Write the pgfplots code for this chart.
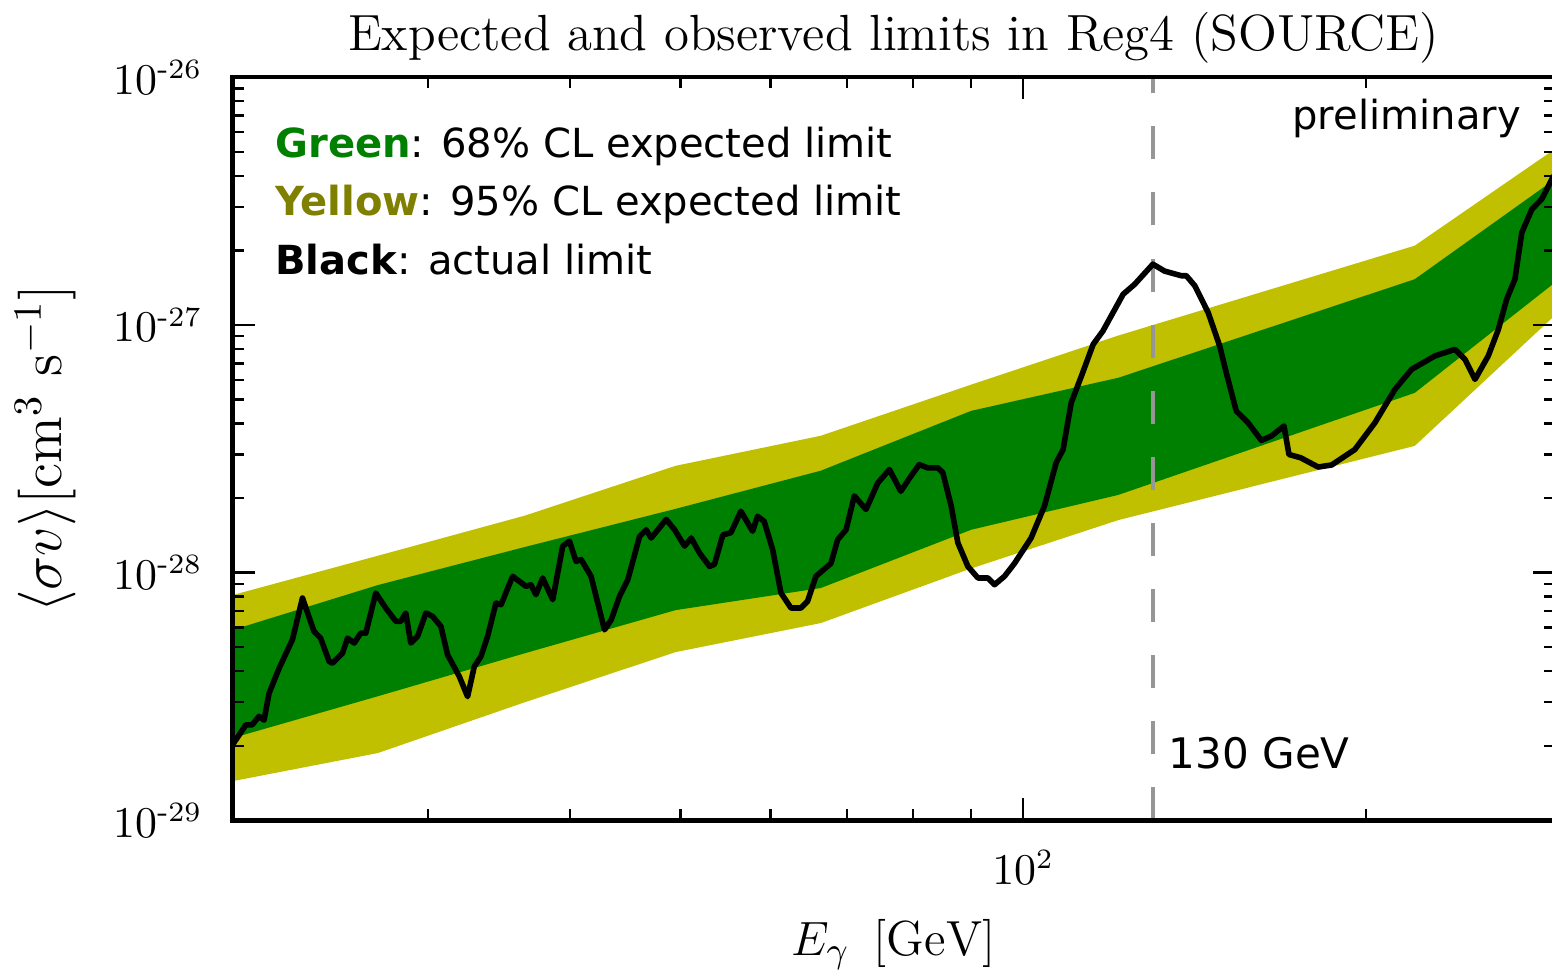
\documentclass[border=0pt]{standalone}
\usepackage{pgfplots}
\pgfplotsset{compat=1.18}
\usepackage{pgfplotstable}
\usepgfplotslibrary{fillbetween}
\usepackage{amsmath}
\usepackage{fontspec}
\newfontfamily\dejavu{DejaVu Sans}
\definecolor{bandgreen}{RGB}{0,128,0}
\definecolor{bandyellow}{RGB}{192,192,0}
\definecolor{olivetext}{RGB}{128,128,0}
\definecolor{dashgray}{RGB}{150,150,150}

\pgfplotstableread{
x yl95 yl68 yu68 yu95
20.2  1.44e-29 2.15e-29 5.87e-29 8.12e-29
27.1  1.87e-29 3.17e-29 8.91e-29 1.17e-28
36.5  3.00e-29 4.73e-29 1.27e-28 1.70e-28
49.5  4.78e-29 7.06e-29 1.81e-28 2.70e-28
66.4  6.26e-29 8.67e-29 2.58e-28 3.57e-28
90.0  1.04e-28 1.49e-28 4.50e-28 5.74e-28
121.2 1.63e-28 2.06e-28 6.12e-28 9.06e-28
220.8 3.25e-28 5.32e-28 1.53e-27 2.09e-27
293.0 1.09e-27 1.48e-27 3.87e-27 5.12e-27
}\bands

\pgfplotstableread{
x y
20.2 2.02e-29
20.75 2.43e-29
21.02 2.43e-29
21.31 2.63e-29
21.53 2.54e-29
21.75 3.26e-29
22.20 4.12e-29
22.80 5.36e-29
23.27 7.90e-29
23.82 5.79e-29
24.14 5.44e-29
24.56 4.38e-29
24.72 4.31e-29
25.23 4.73e-29
25.49 5.44e-29
25.84 5.20e-29
26.18 5.70e-29
26.45 5.70e-29
26.99 8.28e-29
27.54 7.20e-29
28.11 6.36e-29
28.39 6.36e-29
28.68 6.87e-29
28.97 5.20e-29
29.37 5.53e-29
29.87 6.87e-29
30.28 6.66e-29
30.79 6.07e-29
31.21 4.66e-29
31.96 3.81e-29
32.50 3.16e-29
32.94 4.18e-29
33.39 4.59e-29
33.84 5.53e-29
34.42 7.54e-29
34.77 7.42e-29
35.60 9.67e-29
36.57 8.81e-29
36.94 8.94e-29
37.32 8.15e-29
37.83 9.52e-29
38.61 7.78e-29
39.40 1.28e-28
39.94 1.34e-28
40.48 1.11e-28
40.89 1.13e-28
41.72 9.67e-29
42.29 7.54e-29
42.87 5.88e-29
43.45 6.45e-29
44.19 8.02e-29
44.94 9.37e-29
46.02 1.40e-28
46.64 1.49e-28
47.11 1.38e-28
48.57 1.64e-28
49.40 1.49e-28
50.41 1.28e-28
51.09 1.38e-28
51.96 1.20e-28
53.02 1.06e-28
53.55 1.08e-28
54.46 1.42e-28
55.36 1.45e-28
56.49 1.77e-28
57.84 1.47e-28
58.43 1.69e-28
59.22 1.61e-28
60.24 1.24e-28
61.26 8.28e-29
62.52 7.20e-29
63.78 7.20e-29
64.65 7.66e-29
65.75 9.67e-29
67.78 1.09e-28
68.71 1.36e-28
69.88 1.49e-28
71.06 2.04e-28
72.77 1.80e-28
74.52 2.30e-28
76.29 2.61e-28
78.08 2.13e-28
79.68 2.45e-28
81.03 2.73e-28
82.43 2.65e-28
84.14 2.65e-28
85.00 2.53e-28
86.44 1.86e-28
87.62 1.32e-28
89.41 1.06e-28
91.25 9.52e-29
93.11 9.52e-29
94.36 8.94e-29
96.29 9.67e-29
98.25 1.09e-28
101.6 1.38e-28
104.4 1.86e-28
106.9 2.78e-28
108.4 3.14e-28
110.2 4.85e-28
112.5 6.22e-28
115.2 8.35e-28
117.5 9.46e-28
122.4 1.33e-27
125.3 1.46e-27
130.0 1.76e-27
133.1 1.65e-27
137.7 1.58e-27
139.1 1.58e-27
141.5 1.44e-27
145.4 1.12e-27
148.8 8.23e-28
150.8 6.42e-28
153.9 4.49e-28
157.6 4.03e-28
161.9 3.42e-28
165.2 3.56e-28
169.5 3.91e-28
171.2 3.00e-28
175.3 2.91e-28
181.6 2.67e-28
186.6 2.72e-28
195.6 3.14e-28
203.7 4.03e-28
212.1 5.49e-28
219.4 6.62e-28
230.0 7.50e-28
239.5 7.97e-28
244.4 7.26e-28
249.4 6.03e-28
256.2 7.50e-28
261.5 9.60e-28
265.9 1.27e-27
270.4 1.53e-27
274.2 2.36e-27
279.8 2.93e-27
285.5 3.22e-27
292.5 4.01e-27
}\actual

\begin{document}
\begin{tikzpicture}
\begin{axis}[
  scale only axis, width=330pt, height=185.5pt,
  xmode=log, ymode=log,
  xmin=20.2, xmax=293, ymin=1e-29, ymax=1e-26,
  axis on top,
  axis line style={line width=1.1pt},
  major tick length=5.5pt, minor tick length=2.75pt,
  every tick/.style={black, line width=0.6pt},
  xtick={100}, xticklabels={$10^{2}$},
  minor xtick={30,40,50,60,70,80,90,200},
  ytick={1e-29,1e-28,1e-27,1e-26},
  yticklabels={$10^{\text{-}29}$,$10^{\text{-}28}$,$10^{\text{-}27}$,$10^{\text{-}26}$},
  minor ytick={2e-29,3e-29,4e-29,5e-29,6e-29,7e-29,8e-29,9e-29,
               2e-28,3e-28,4e-28,5e-28,6e-28,7e-28,8e-28,9e-28,
               2e-27,3e-27,4e-27,5e-27,6e-27,7e-27,8e-27,9e-27},
  tick label style={font=\fontsize{10.5}{12}\selectfont},
  yticklabel style={xshift=-4pt},
  xticklabel style={yshift=-4pt},
  title={Expected and observed limits in Reg4 (SOURCE)},
  title style={font=\fontsize{12.7}{15}\selectfont, at={(axis description cs:0.5,1.0364)}, anchor=base, yshift=-6pt, inner sep=3pt},
  xlabel={$E_\gamma\ \,[\mathrm{GeV}]$},
  xlabel style={font=\fontsize{12.3}{14}\selectfont, at={(axis description cs:0.5,-0.182)}, anchor=base, inner sep=2pt},
  ylabel={$\langle\sigma v\rangle[\mathrm{cm}^3\ \mathrm{s}^{-1}]$},
  ylabel style={font=\fontsize{14.3}{16}\selectfont, at={(axis description cs:-0.1765,0.5)}, anchor=north, inner sep=3.75pt},
]
\addplot[name path=yl95, draw=none] table[x=x, y=yl95] {\bands};
\addplot[name path=yu95, draw=none] table[x=x, y=yu95] {\bands};
\addplot[name path=yl68, draw=none] table[x=x, y=yl68] {\bands};
\addplot[name path=yu68, draw=none] table[x=x, y=yu68] {\bands};
\addplot[fill=bandyellow, draw=none] fill between[of=yl95 and yu95];
\addplot[fill=bandgreen, draw=none] fill between[of=yl68 and yu68];
\addplot[dashgray, line width=1pt, dash pattern=on 8.25pt off 8.25pt] coordinates {(130,1e-29) (130,1e-26)};
\addplot[black, line width=1.4pt, line join=round] table[x=x, y=y] {\actual};
\node[anchor=base west, inner sep=0, font=\dejavu\fontsize{10}{12}\selectfont] at (rel axis cs:0.0318,0.892) {\textbf{\color{bandgreen}Green}: 68\% CL expected limit};
\node[anchor=base west, inner sep=0, font=\dejavu\fontsize{10}{12}\selectfont] at (rel axis cs:0.0318,0.814) {\textbf{\color{olivetext}Yellow}: 95\% CL expected limit};
\node[anchor=base west, inner sep=0, font=\dejavu\fontsize{10}{12}\selectfont] at (rel axis cs:0.0318,0.7345) {\textbf{Black}: actual limit};
\node[anchor=base east, inner sep=0, font=\dejavu\fontsize{10}{12}\selectfont] at (rel axis cs:0.975,0.930) {preliminary};
\node[anchor=base west, inner sep=0, font=\dejavu\fontsize{10.5}{12}\selectfont] at (rel axis cs:0.7076,0.070) {130 GeV};
\end{axis}
\pgfresetboundingbox
\useasboundingbox (current axis.outer south west) rectangle ([xshift=-1.2pt]current axis.outer north east);
\end{tikzpicture}
\end{document}
